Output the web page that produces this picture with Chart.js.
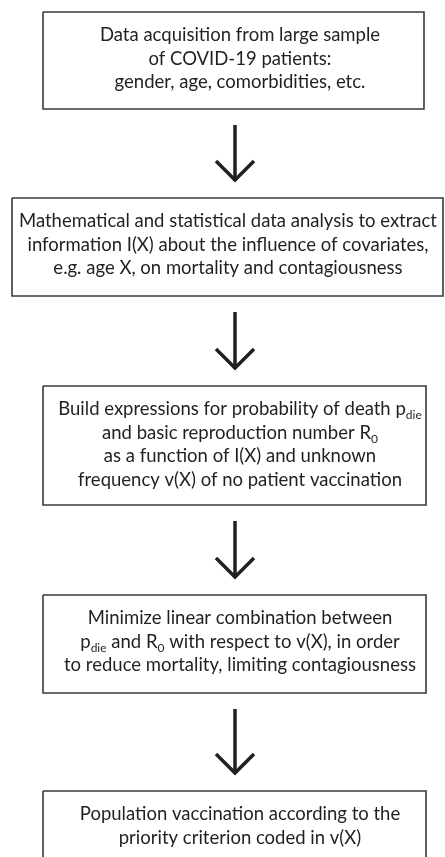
<!DOCTYPE html>
<html>
<head>
<meta charset="utf-8">
<script src="https://cdn.jsdelivr.net/npm/chart.js@4.4.0/dist/chart.umd.min.js"></script>
<style>
  html, body { margin: 0; padding: 0; background: #fff; }
  canvas { display: block; }
</style>
</head>
<body>
<canvas id="flow" width="445" height="857"></canvas>
<script>
// step texts, one array per box; _{..} marks a subscript
const step1 = ["Data acquisition from large sample", "of COVID-19 patients:", "gender, age, comorbidities, etc."];
const step2 = ["Mathematical and statistical data analysis to extract", "information I(X) about the influence of covariates,", "e.g. age X, on mortality and contagiousness"];
const step3 = ["Build expressions for probability of death p_{die}", "and basic reproduction number R_{0}", "as a function of I(X) and unknown", "frequency v(X) of no patient vaccination"];
const step4 = ["Minimize linear combination between", "p_{die} and R_{0} with respect to v(X), in order", "to reduce mortality, limiting contagiousness"];
const step5 = ["Population vaccination according to the", "priority criterion coded in v(X)"];
const steps = [step1, step2, step3, step4, step5];

// layout of the boxes (page units)
const boxTop = [12, 198, 386, 595, 791];
const boxBottom = [109, 296, 505, 693, 900];
const boxLeft = [43, 12, 43, 43, 43];
const boxRight = [424, 443, 426, 426, 426];
const textCenter = [240, 228, 240, 240, 240];
const arrowX = 235;

const lineColor = "#3a3a3a";
const textColor = "#231f20";
const fontMain = "18.5px Lato";
const fontSub = "12px Lato";

const datasets = [];
steps.forEach((s, i) => {
  datasets.push({
    data: [
      { x: boxLeft[i], y: boxTop[i] },
      { x: boxRight[i], y: boxTop[i] },
      { x: boxRight[i], y: boxBottom[i] },
      { x: boxLeft[i], y: boxBottom[i] },
      { x: boxLeft[i], y: boxTop[i] },
    ],
    showLine: true,
    borderColor: lineColor,
    borderWidth: 1.6,
    pointRadius: 0,
    tension: 0,
  });
  if (i < steps.length - 1) {
    const y0 = boxBottom[i] + 16;
    const y1 = boxTop[i + 1] - 16;
    datasets.push({
      data: [{ x: arrowX, y: y0 }, { x: arrowX, y: y1 - 1 }],
      showLine: true,
      borderColor: "#231f20",
      borderWidth: 3.5,
      pointRadius: 0,
    });
    datasets.push({
      data: [
        { x: arrowX - 19, y: y1 - 21 },
        { x: arrowX, y: y1 - 2 },
        { x: arrowX + 19, y: y1 - 21 },
      ],
      showLine: true,
      borderColor: "#231f20",
      borderWidth: 3.5,
      borderJoinStyle: "miter",
      pointRadius: 0,
    });
  }
});

function parts(str) {
  return str.split(/(_\{[^}]*\})/).filter(p => p.length).map(p =>
    p.startsWith("_{") ? { t: p.slice(2, -1), sub: true } : { t: p, sub: false });
}

const textPlugin = {
  id: "stepText",
  afterDatasetsDraw(chart) {
    const ctx = chart.ctx;
    const xs = chart.scales.x, ys = chart.scales.y;
    ctx.save();
    ctx.fillStyle = textColor;
    ctx.textBaseline = "alphabetic";
    ctx.textAlign = "left";
    steps.forEach((lines, i) => {
      lines.forEach((line, j) => {
        const segs = parts(line);
        let w = 0;
        segs.forEach(s => { ctx.font = s.sub ? fontSub : fontMain; s.w = ctx.measureText(s.t).width; w += s.w; });
        let x = xs.getPixelForValue(textCenter[i]) - w / 2;
        const y = ys.getPixelForValue(boxTop[i] + 29 + j * 23.5);
        segs.forEach(s => {
          ctx.font = s.sub ? fontSub : fontMain;
          ctx.fillText(s.t, x, s.sub ? y + 4 : y);
          x += s.w;
        });
      });
    });
    ctx.restore();
  }
};

new Chart(document.getElementById("flow"), {
  type: "scatter",
  data: { datasets },
  options: {
    responsive: false,
    animation: false,
    layout: { padding: 0 },
    plugins: { legend: { display: false }, tooltip: { enabled: false } },
    scales: {
      x: { type: "linear", min: 0, max: 445, display: false },
      y: { type: "linear", min: 0, max: 857, reverse: true, display: false },
    },
  },
  plugins: [textPlugin],
});
</script>
</body>
</html>
